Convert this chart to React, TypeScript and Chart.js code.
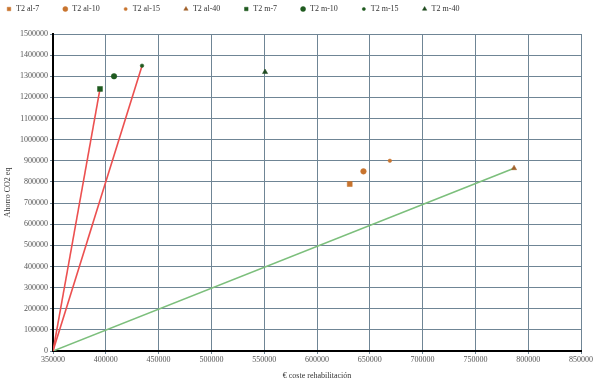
import React, { useEffect, useRef } from "react";
import { Chart, registerables } from "chart.js";
import { drawPoint } from "chart.js/helpers";
Chart.register(...registerables);

const seriesNames = ["T2 al-7", "T2 al-10", "T2 al-15", "T2 al-40", "T2 m-7", "T2 m-10", "T2 m-15", "T2 m-40"];
const seriesX = [631000, 644000, 669000, 786600, 394500, 407800, 434300, 550800];
const seriesY = [790000, 850000, 900000, 865000, 1240000, 1300000, 1350000, 1320000];
const seriesShape = ["rect", "circle", "circle", "triangle", "rect", "circle", "circle", "triangle"];
const seriesSize = [3.5, 2.8, 1.8, 3, 3.5, 2.8, 1.8, 3];
const seriesColor = ["#c8742e", "#c8742e", "#c8742e", "#a0602a", "#1f5a1f", "#1f5a1f", "#1f5a1f", "#1f4a1f"];

const origin = { x: 350000, y: 0 };
const redLine1 = [origin, { x: 394500, y: 1240000 }];
const redLine2 = [origin, { x: 434300, y: 1350000 }];
const greenLine = [origin, { x: 786600, y: 865000 }];

const FONT_FAMILY = "'Liberation Serif', 'Times New Roman', serif";

const legendPlugin = {
  id: "customLegend",
  afterDraw(chart: any) {
    const ctx = chart.ctx;
    ctx.save();
    ctx.font = `8px ${FONT_FAMILY}`;
    ctx.textBaseline = "middle";
    let x = 9;
    const y = 9;
    chart.data.datasets.forEach((ds: any) => {
      if (!ds.label) return;
      ctx.fillStyle = ds.backgroundColor;
      ctx.strokeStyle = ds.borderColor;
      ctx.lineWidth = 0.5;
      const r = ds.pointRadius < 2 ? 1.6 : 2.5;
      drawPoint(ctx, { pointStyle: ds.pointStyle, rotation: 0, borderWidth: 0.5, radius: r } as any, x, y);
      ctx.fillStyle = "#333";
      ctx.fillText(ds.label, x + 7, y);
      x += 7 + ctx.measureText(ds.label).width + 26;
    });
    ctx.restore();
  },
};

export default function App() {
  const ref = useRef<HTMLCanvasElement>(null);
  useEffect(() => {
    document.body.style.margin = "0";
    const font = { family: FONT_FAMILY, size: 8 };
    const pointSets = seriesNames.map((n, i) => ({
      label: n,
      type: "scatter" as const,
      data: [{ x: seriesX[i], y: seriesY[i] }],
      pointStyle: seriesShape[i],
      pointRadius: seriesSize[i],
      backgroundColor: seriesColor[i],
      borderColor: seriesColor[i],
      borderWidth: 0.5,
      order: 0,
    }));
    const lineSet = (d: any, c: string) => ({
      label: "",
      type: "line" as const,
      data: d,
      borderColor: c,
      borderWidth: 1.6,
      pointRadius: 0,
      showLine: true,
      fill: false,
      order: 1,
    });
    const chart = new Chart(ref.current!, {
      type: "scatter",
      data: {
        datasets: [
          ...pointSets,
          lineSet(redLine1, "#ec5050"),
          lineSet(redLine2, "#ec5050"),
          lineSet(greenLine, "#7cbf7c"),
        ] as any,
      },
      plugins: [legendPlugin],
      options: {
        animation: false,
        responsive: false,
        layout: { padding: { left: 0, right: 19, top: 34, bottom: 0 } },
        plugins: {
          legend: { display: false },
          tooltip: { enabled: false },
        },
        scales: {
          x: {
            type: "linear",
            min: 350000,
            max: 850000,
            ticks: { stepSize: 50000, font, color: "#555", padding: 1, maxRotation: 0, callback: (v: any) => String(v) },
            grid: { color: "#6f8595", lineWidth: 1, tickLength: 3 },
            border: { color: "#000", width: 2 },
            title: { display: true, text: "€ coste rehabilitación", font, color: "#333", padding: { top: 3, bottom: 2 } },
            afterFit: (s: any) => { s.height = 32; },
          },
          y: {
            type: "linear",
            min: 0,
            max: 1500000,
            ticks: { stepSize: 100000, font, color: "#555", padding: 2, callback: (v: any) => String(v) },
            grid: { color: "#6f8595", lineWidth: 1, tickLength: 3 },
            border: { color: "#000", width: 2 },
            title: { display: true, text: "Ahorro CO2 eq", font, color: "#333", padding: { top: 3, bottom: 0 } },
            afterFit: (s: any) => { s.width = 53; },
          },
        },
      },
    });
    return () => chart.destroy();
  }, []);
  return (
    <div style={{ width: 600, height: 383 }}>
      <canvas ref={ref} width={600} height={383} />
    </div>
  );
}
